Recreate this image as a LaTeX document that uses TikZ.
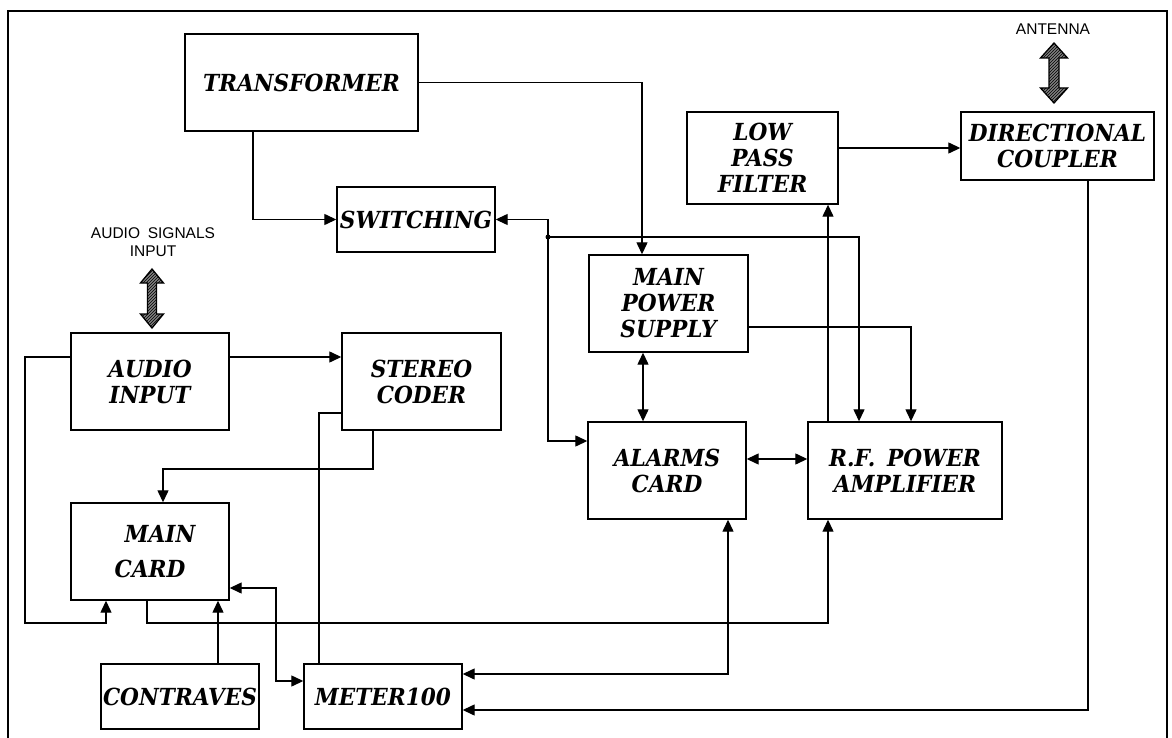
\documentclass[tikz,border=0pt]{standalone}
\usepackage{fontspec}
\setmainfont{DejaVu Serif}
\newfontfamily\boxfont[FakeStretch=0.92]{DejaVu Serif}
\newfontfamily\lblfont{Liberation Sans}
\usetikzlibrary{arrows.meta,patterns,calc}
\newcommand\hatchedarrow[6]{% x, ytop, ybot, headhalf, shafthalf, headlen
  \path[fill=black!50] (#1,#2) -- ({#1+#4},{#2+#6}) -- ({#1+#5},{#2+#6}) -- ({#1+#5},{#3-#6}) -- ({#1+#4},{#3-#6}) -- (#1,#3) -- ({#1-#4},{#3-#6}) -- ({#1-#5},{#3-#6}) -- ({#1-#5},{#2+#6}) -- ({#1-#4},{#2+#6}) -- cycle;
  \path[pattern=north east lines, pattern color=black] (#1,#2) -- ({#1+#4},{#2+#6}) -- ({#1+#5},{#2+#6}) -- ({#1+#5},{#3-#6}) -- ({#1+#4},{#3-#6}) -- (#1,#3) -- ({#1-#4},{#3-#6}) -- ({#1-#5},{#3-#6}) -- ({#1-#5},{#2+#6}) -- ({#1-#4},{#2+#6}) -- cycle;
  \draw[line width=1.3pt, line join=miter] (#1,#2) -- ({#1+#4},{#2+#6}) -- ({#1+#5},{#2+#6}) -- ({#1+#5},{#3-#6}) -- ({#1+#4},{#3-#6}) -- (#1,#3) -- ({#1-#4},{#3-#6}) -- ({#1-#5},{#3-#6}) -- ({#1-#5},{#2+#6}) -- ({#1-#4},{#2+#6}) -- cycle;
}
\begin{document}
\begin{tikzpicture}[x=1pt,y=-1pt,
  box/.style={draw, line width=1.4pt, inner sep=0pt, align=center,
    font=\boxfont\bfseries\itshape\fontsize{23.5}{26}\selectfont},
  conn/.style={line width=1.3pt},
  arr/.style={conn, -{Triangle[length=12pt,width=11pt]}},
  darr/.style={conn, {Triangle[length=12pt,width=11pt]}-{Triangle[length=12pt,width=11pt]}},
  lbl/.style={font=\lblfont\fontsize{15.5}{18}\selectfont, align=center, inner sep=0pt}
]
\useasboundingbox (0,0) rectangle (1172,738);
\fill[white] (0,0) rectangle (1172,738);
% frame
\draw[line width=2.8pt] (8,738) -- (8,11) -- (1167,11) -- (1167,738);

% boxes
\node[box, minimum width=233pt, minimum height=97pt] (trans) at (301.5,82.5) {TRANSFORMER};
\node[box, minimum width=158pt, minimum height=65pt] (sw) at (416,219.5) {SWITCHING};
\node[box, minimum width=151pt, minimum height=92pt] (lpf) at (762.5,158) {LOW\\PASS\\FILTER};
\node[box, minimum width=193pt, minimum height=68pt] (dc) at (1057.5,146) {DIRECTIONAL\\COUPLER};
\node[box, minimum width=159pt, minimum height=97pt] (mps) at (668.5,303.5) {MAIN\\POWER\\SUPPLY};
\node[box, minimum width=158pt, minimum height=97pt] (ai) at (150,381.5) {AUDIO\\INPUT};
\node[box, minimum width=159pt, minimum height=97pt] (sc) at (421.5,381.5) {STEREO\\CODER};
\node[box, minimum width=158pt, minimum height=97pt] (al) at (667,470.5) {ALARMS\\CARD};
\node[box, minimum width=194pt, minimum height=97pt] (rf) at (905,470.5) {R.F.\enspace POWER\\AMPLIFIER};
\node[box, minimum width=158pt, minimum height=97pt] (mc) at (150,551.5) {\hspace*{20pt}MAIN\\[9pt]CARD};
\node[box, minimum width=158pt, minimum height=65pt] (con) at (180,696.5) {CONTRAVES};
\node[box, minimum width=158pt, minimum height=65pt] (met) at (383,696.5) {METER100};

% labels
\node[lbl] (antl) at (1053,29) {ANTENNA};
\node[lbl] (audl) at (153,242) {AUDIO\enspace SIGNALS\\INPUT};

% hatched double arrows
\hatchedarrow{1054}{43}{103}{13.5}{5}{15}
\hatchedarrow{152}{269}{328}{11.5}{4.5}{14}

% connectors
\draw[arr] (trans.east) -| (642,0 |- mps.north);
\draw[arr] (253,0 |- trans.south) |- (sw.west);
\coordinate (dot) at (548,237);
\fill (dot) circle (2.5pt);
\draw[arr] (dot) |- (sw.east);
\draw[arr] (dot) -| (859,0 |- rf.north);
\draw[arr] (dot) |- (al.west |- 0,441);
\draw[arr] (mps.east |- 0,327) -| (911,0 |- rf.north);
\draw[darr] (643,0 |- mps.south) -- (643,0 |- al.north);
\draw[darr] (al.east |- 0,459) -- (rf.west |- 0,459);
\draw[arr] (828,0 |- rf.north) -- (828,0 |- lpf.south);
\draw[arr] (lpf.east |- 0,148) -- (dc.west |- 0,148);
\draw[arr] (1088,0 |- dc.south) |- (met.east |- 0,710);
\draw[darr] (met.east |- 0,674) -| (728,0 |- al.south);
\draw[arr] (147,0 |- mc.south) |- (828,623) -- (828,0 |- rf.south);
\draw[arr] (ai.west |- 0,357) -| (25,623) -| (106,0 |- mc.south);
\draw[arr] (ai.east |- 0,357) -- (sc.west |- 0,357);
\draw[arr] (373,0 |- sc.south) |- (163,469) -- (163,0 |- mc.north);
\draw[conn] (sc.west |- 0,413) -| (319,0 |- met.north);
\draw[arr] (218,0 |- con.north) -- (218,0 |- mc.south);
\draw[darr] (mc.east |- 0,588) -| (276,681) -- (met.west |- 0,681);
\end{tikzpicture}
\end{document}
